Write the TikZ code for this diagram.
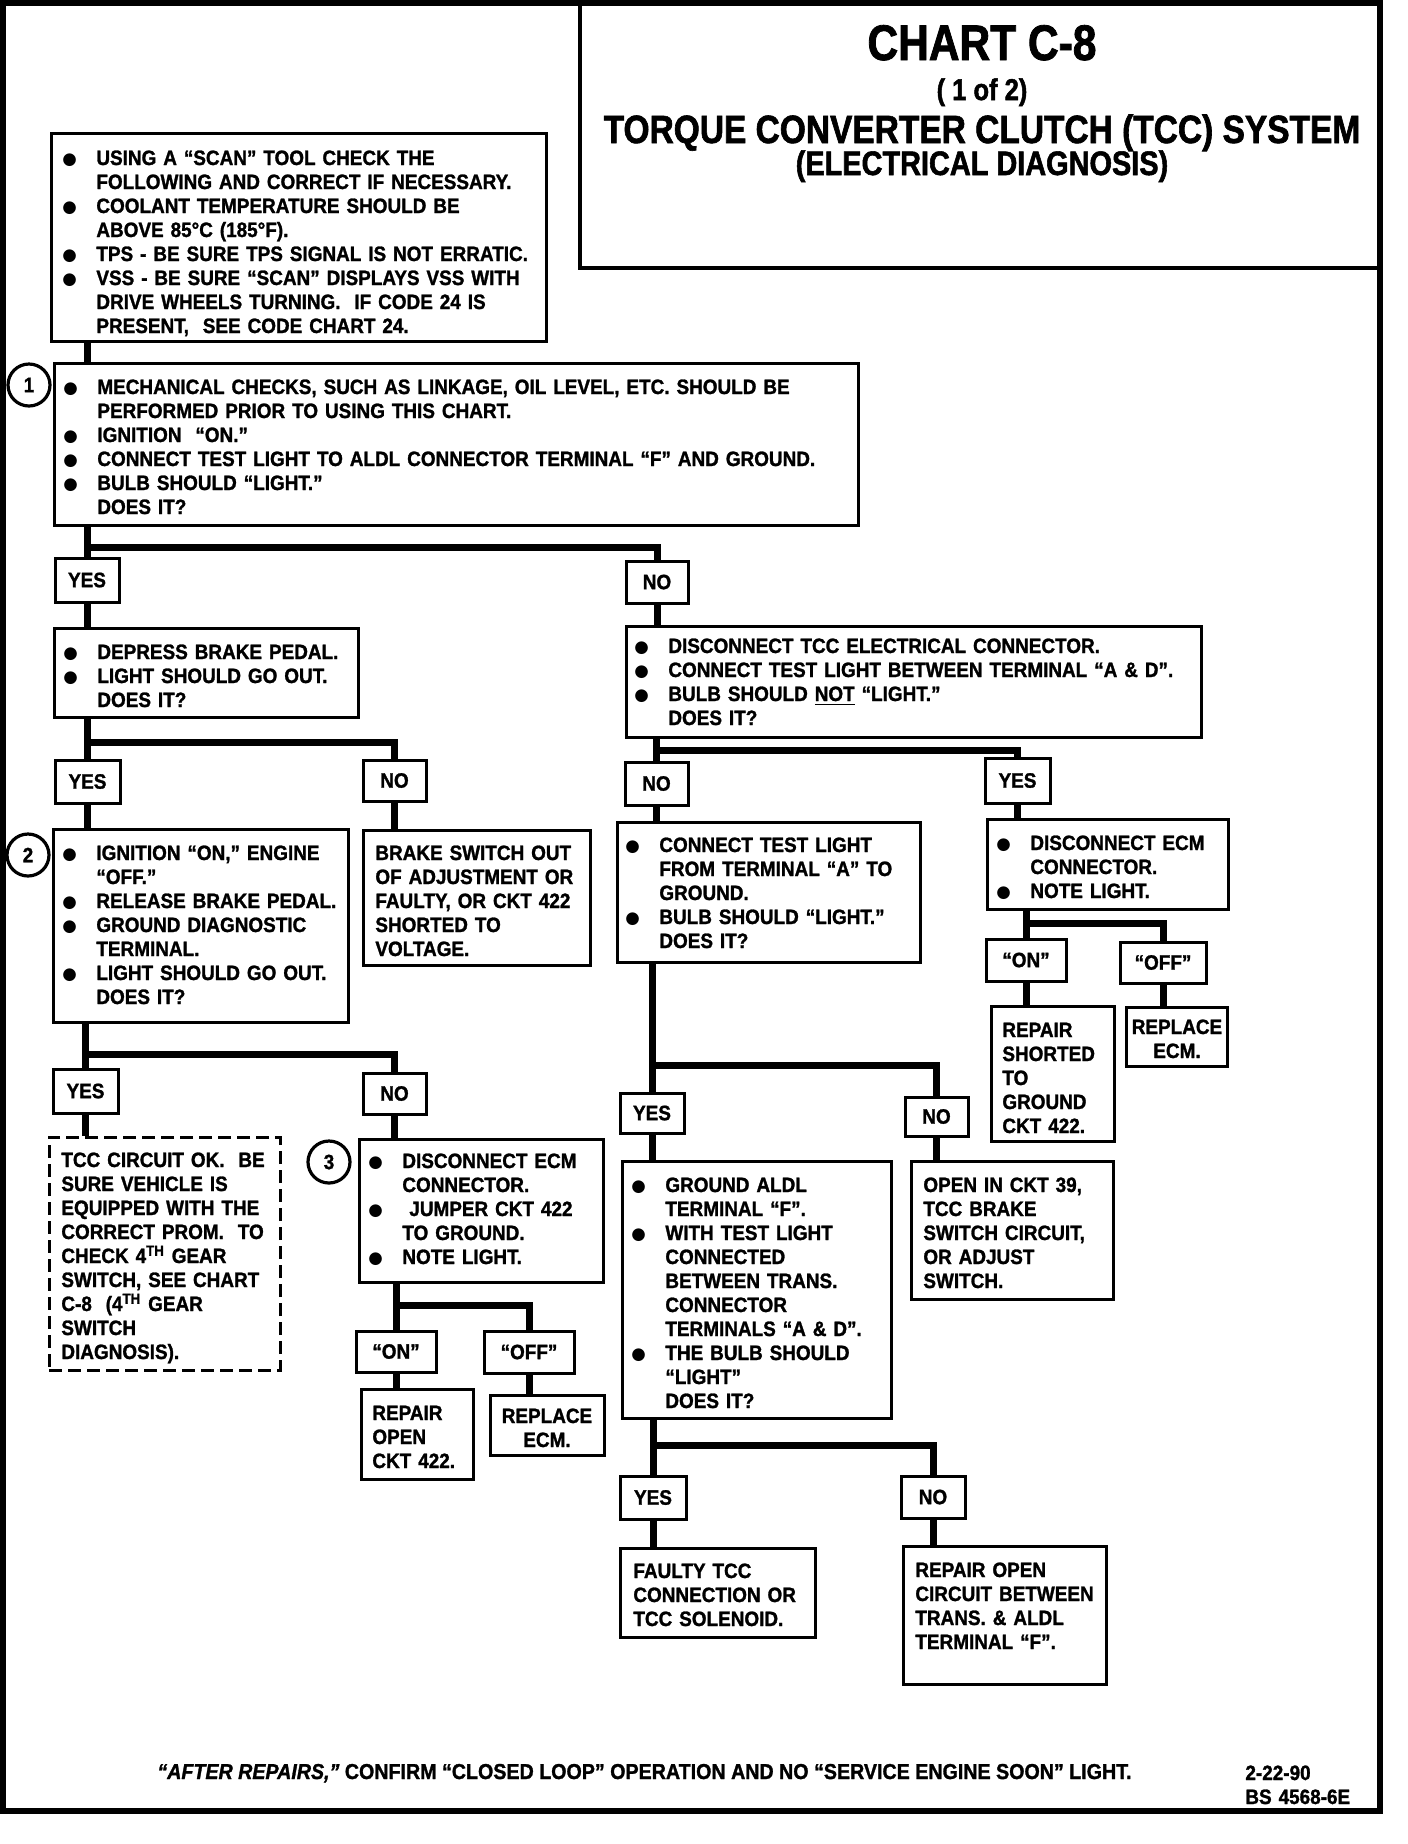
\documentclass[tikz,border=0pt]{standalone}
\usepackage{fontspec}
\setmainfont{Liberation Sans}[FakeStretch=0.91, BoldFeatures={FakeBold=1.3}, BoldItalicFeatures={FakeBold=1.3}]
\newfontfamily\titlefont{Liberation Sans}[FakeStretch=0.85, BoldFeatures={FakeBold=1.6}]
\newfontfamily\dotfont{DejaVu Sans}
\usetikzlibrary{fit}
\newlength\bulw \setlength\bulw{17pt}
\newcommand\bul{\makebox[\bulw][l]{\raisebox{0.2pt}{\dotfont\fontsize{8.3}{12}\selectfont ●}}}
\newcommand\ind{\hspace*{\bulw}}
\tikzset{
  box/.style={draw, line width=1.5pt, inner sep=0pt},
  dbox/.style={draw, line width=1.5pt, inner sep=0pt, dash pattern=on 6.5pt off 3pt},
  lab/.style={draw, line width=1.5pt, inner sep=0pt, font=\bodyf},
  txt/.style={anchor=base west, align=left, text width=420pt, inner sep=0pt, font=\bodyf},
  ctxt/.style={anchor=base, align=center, text width=120pt, inner sep=0pt, font=\bodyf},
  conn/.style={line width=3.5pt},
  numc/.style={circle, draw, line width=1.6pt, minimum size=21pt, inner sep=0pt, font=\bodyf},
}
\newcommand\bodyf{\fontsize{10.4}{12}\selectfont\bfseries}
% label box: name, x1, y1, x2, y2, text
\newcommand\labbox[6]{\node[lab, minimum width={(#4-#2)*0.5pt}, minimum height={(#5-#3)*0.5pt}] (#1) at ({(#2+#4)/2},{(#3+#5)/2}) {#6};}
\begin{document}
\begin{tikzpicture}[x=0.5pt,y=-0.5pt]
\useasboundingbox (0,0) rectangle (1408,1844);
% outer frame
\draw[line width=3pt] (3,3) rectangle (1380,1811);
% title block
\node[box, line width=2pt, fit={(580,3)(1380,268)}] (title) {};
\node[anchor=base, inner sep=0pt, font=\titlefont\bfseries\fontsize{25}{28}\selectfont] (tt1) at (982,60) {CHART C-8};
\node[anchor=base, inner sep=0pt, font=\titlefont\bfseries\fontsize{15}{18}\selectfont] (tt2) at (982,100) {( 1 of 2)};
\node[anchor=base, inner sep=0pt, font=\titlefont\bfseries\fontsize{19.7}{22}\selectfont] (tt3) at (982,143) {TORQUE CONVERTER CLUTCH (TCC) SYSTEM};
\node[anchor=base, inner sep=0pt, font=\titlefont\bfseries\fontsize{17}{20}\selectfont] (tt4) at (982,175) {(ELECTRICAL DIAGNOSIS)};

% box A
\node[box, fit={(51,133)(546,341)}] (A) {};
\node[txt] (At) at (62,165) {\bul USING A “SCAN” TOOL CHECK THE\\
\ind FOLLOWING AND CORRECT IF NECESSARY.\\
\bul COOLANT TEMPERATURE SHOULD BE\\
\ind ABOVE 85°C (185°F).\\
\bul TPS - BE SURE TPS SIGNAL IS NOT ERRATIC.\\
\bul VSS - BE SURE “SCAN” DISPLAYS VSS WITH\\
\ind DRIVE WHEELS TURNING.\ \ IF CODE 24 IS\\
\ind PRESENT,\ \ SEE CODE CHART 24.};

% box 1
\node[box, fit={(54,363)(858,525)}] (P1) {};
\node[numc] (c1) at (29,385) {1};
\node[txt] (P1t) at (63,394) {\bul MECHANICAL CHECKS, SUCH AS LINKAGE, OIL LEVEL, ETC. SHOULD BE\\
\ind PERFORMED PRIOR TO USING THIS CHART.\\
\bul IGNITION\ \ “ON.”\\
\bul CONNECT TEST LIGHT TO ALDL CONNECTOR TERMINAL “F” AND GROUND.\\
\bul BULB SHOULD “LIGHT.”\\
\ind DOES IT?};

\labbox{y1}{55}{558}{119}{602}{YES}
\labbox{n1}{626}{561}{688}{603}{NO}

% box B
\node[box, fit={(54,628)(358,717)}] (B) {};
\node[txt] (Bt) at (63,659) {\bul DEPRESS BRAKE PEDAL.\\
\bul LIGHT SHOULD GO OUT.\\
\ind DOES IT?};

% box C
\node[box, fit={(626,626)(1201,737)}] (C) {};
\node[txt] (Ct) at (634,653) {\bul DISCONNECT TCC ELECTRICAL CONNECTOR.\\
\bul CONNECT TEST LIGHT BETWEEN TERMINAL “A \& D”.\\
\bul BULB SHOULD \underline{NOT} “LIGHT.”\\
\ind DOES IT?};

\labbox{y2}{55}{760}{120}{803}{YES}
\labbox{n2}{363}{760}{426}{801}{NO}
\labbox{n3}{625}{762}{688}{805}{NO}
\labbox{y3}{985}{758}{1050}{803}{YES}

% box D
\node[box, fit={(53,829)(348,1022)}] (D) {};
\node[numc] (c2) at (28,855) {2};
\node[txt] (Dt) at (62,860) {\bul IGNITION “ON,” ENGINE\\
\ind “OFF.”\\
\bul RELEASE BRAKE PEDAL.\\
\bul GROUND DIAGNOSTIC\\
\ind TERMINAL.\\
\bul LIGHT SHOULD GO OUT.\\
\ind DOES IT?};

% box E
\node[box, fit={(363,830)(590,965)}] (E) {};
\node[txt] (Et) at (375,860) {BRAKE SWITCH OUT\\
OF ADJUSTMENT OR\\
FAULTY, OR CKT 422\\
SHORTED TO\\
VOLTAGE.};

% box F
\node[box, fit={(617,822)(920,962)}] (F) {};
\node[txt] (Ft) at (625,852) {\bul CONNECT TEST LIGHT\\
\ind FROM TERMINAL “A” TO\\
\ind GROUND.\\
\bul BULB SHOULD “LIGHT.”\\
\ind DOES IT?};

% box G
\node[box, fit={(987,819)(1228,909)}] (G) {};
\node[txt] (Gt) at (996,850) {\bul DISCONNECT ECM\\
\ind CONNECTOR.\\
\bul NOTE LIGHT.};

\labbox{on1}{986}{939}{1066}{981}{“ON”}
\labbox{off1}{1120}{942}{1206}{983}{“OFF”}

\node[box, fit={(991,1006)(1114,1141)}] (H) {};
\node[txt] (Ht) at (1002,1037) {REPAIR\\
SHORTED\\
TO\\
GROUND\\
CKT 422.};
\node[box, fit={(1126,1007)(1227,1066)}] (I) {};
\node[ctxt] (It) at (1177,1034) {REPLACE\\ECM.};

\labbox{y4}{620}{1093}{684}{1133}{YES}
\labbox{n4}{905}{1097}{968}{1136}{NO}

% box J
\node[box, fit={(622,1161)(891,1418)}] (J) {};
\node[txt] (Jt) at (631,1192) {\bul GROUND ALDL\\
\ind TERMINAL “F”.\\
\bul WITH TEST LIGHT\\
\ind CONNECTED\\
\ind BETWEEN TRANS.\\
\ind CONNECTOR\\
\ind TERMINALS “A \& D”.\\
\bul THE BULB SHOULD\\
\ind “LIGHT”\\
\ind DOES IT?};

% box K
\node[box, fit={(911,1161)(1113,1299)}] (K) {};
\node[txt] (Kt) at (923,1192) {OPEN IN CKT 39,\\
TCC BRAKE\\
SWITCH CIRCUIT,\\
OR ADJUST\\
SWITCH.};

\labbox{y5}{620}{1476}{686}{1519}{YES}
\labbox{n5}{901}{1476}{965}{1518}{NO}

\node[box, fit={(620,1548)(815,1637)}] (L) {};
\node[txt] (Lt) at (633,1578) {FAULTY TCC\\
CONNECTION OR\\
TCC SOLENOID.};
\node[box, fit={(903,1546)(1106,1684)}] (M) {};
\node[txt] (Mt) at (915,1577) {REPAIR OPEN\\
CIRCUIT BETWEEN\\
TRANS. \& ALDL\\
TERMINAL “F”.};

% left lower
\labbox{y6}{53}{1069}{118}{1113}{YES}
\labbox{n6}{363}{1073}{426}{1114}{NO}

\node[dbox, fit={(49,1137)(280,1370)}] (N) {};
\node[txt] (Nt) at (61,1167) {TCC CIRCUIT OK.\ \ BE\\
SURE VEHICLE IS\\
EQUIPPED WITH THE\\
CORRECT PROM.\ \ TO\\
CHECK 4\textsuperscript{TH} GEAR\\
SWITCH, SEE CHART\\
C-8\ \ (4\textsuperscript{TH} GEAR\\
SWITCH\\
DIAGNOSIS).};

\node[box, fit={(359,1139)(603,1282)}] (O) {};
\node[numc] (c3) at (329,1162) {3};
\node[txt] (Ot) at (368,1168) {\bul DISCONNECT ECM\\
\ind CONNECTOR.\\
\bul\ JUMPER CKT 422\\
\ind TO GROUND.\\
\bul NOTE LIGHT.};

\labbox{on2}{356}{1331}{436}{1372}{“ON”}
\labbox{off2}{484}{1331}{574}{1373}{“OFF”}

\node[box, fit={(361,1389)(473,1479)}] (P) {};
\node[txt] (Pt) at (372,1420) {REPAIR\\
OPEN\\
CKT 422.};
\node[box, fit={(490,1395)(604,1455)}] (Q) {};
\node[ctxt] (Qt) at (547,1423) {REPLACE\\ECM.};

% footer
\node[anchor=base west, inner sep=0pt, font=\fontsize{10.8}{12}\selectfont\bfseries] (foot) at (157,1779) {{\itshape “AFTER REPAIRS,”} CONFIRM “CLOSED LOOP” OPERATION AND NO “SERVICE ENGINE SOON” LIGHT.};
\node[anchor=base west, align=left, text width=80pt, inner sep=0pt, font=\bodyf] (code) at (1245,1780) {2-22-90\\BS 4568-6E};

% junction heights
\coordinate (jA) at (0,547);
\coordinate (jB) at (0,742);
\coordinate (jC) at (0,750);
\coordinate (jD) at (0,1054);
\coordinate (jF) at (0,1065);
\coordinate (jG) at (0,923);
\coordinate (jJ) at (0,1445);
\coordinate (jO) at (0,1305);

% connectors
\draw[conn] (A.south -| y1) -- (P1.north -| y1);
\draw[conn] (P1.south -| y1) -- (y1.north);
\draw[conn] (y1.north |- jA) -| (n1.north);
\draw[conn] (y1.south) -- (B.north -| y1);
\draw[conn] (n1.south) -- (C.north -| n1);

\draw[conn] (B.south -| y2) -- (y2.north);
\draw[conn] (y2.north |- jB) -| (n2.north);
\draw[conn] (y2.south) -- (D.north -| y2);
\draw[conn] (n2.south) -- (E.north -| n2);

\draw[conn] (C.south -| n3) -- (n3.north);
\draw[conn] (n3.north |- jC) -| (y3.north);
\draw[conn] (n3.south) -- (F.north -| n3);
\draw[conn] (y3.south) -- (G.north -| y3);

\draw[conn] (G.south -| on1) -- (on1.north);
\draw[conn] (on1.north |- jG) -| (off1.north);
\draw[conn] (on1.south) -- (H.north -| on1);
\draw[conn] (off1.south) -- (I.north -| off1);

\draw[conn] (F.south -| y4) -- (y4.north);
\draw[conn] (y4.north |- jF) -| (n4.north);
\draw[conn] (y4.south) -- (J.north -| y4);
\draw[conn] (n4.south) -- (K.north -| n4);

\draw[conn] (J.south -| y5) -- (y5.north);
\draw[conn] (y5.north |- jJ) -| (n5.north);
\draw[conn] (y5.south) -- (L.north -| y5);
\draw[conn] (n5.south) -- (M.north -| n5);

\draw[conn] (D.south -| y6) -- (y6.north);
\draw[conn] (y6.north |- jD) -| (n6.north);
\draw[conn] (y6.south) -- (N.north -| y6);
\draw[conn] (n6.south) -- (O.north -| n6);

\draw[conn] (O.south -| on2) -- (on2.north);
\draw[conn] (on2.north |- jO) -| (off2.north);
\draw[conn] (on2.south) -- (P.north -| on2);
\draw[conn] (off2.south) -- (Q.north -| off2);
\end{tikzpicture}
\end{document}
